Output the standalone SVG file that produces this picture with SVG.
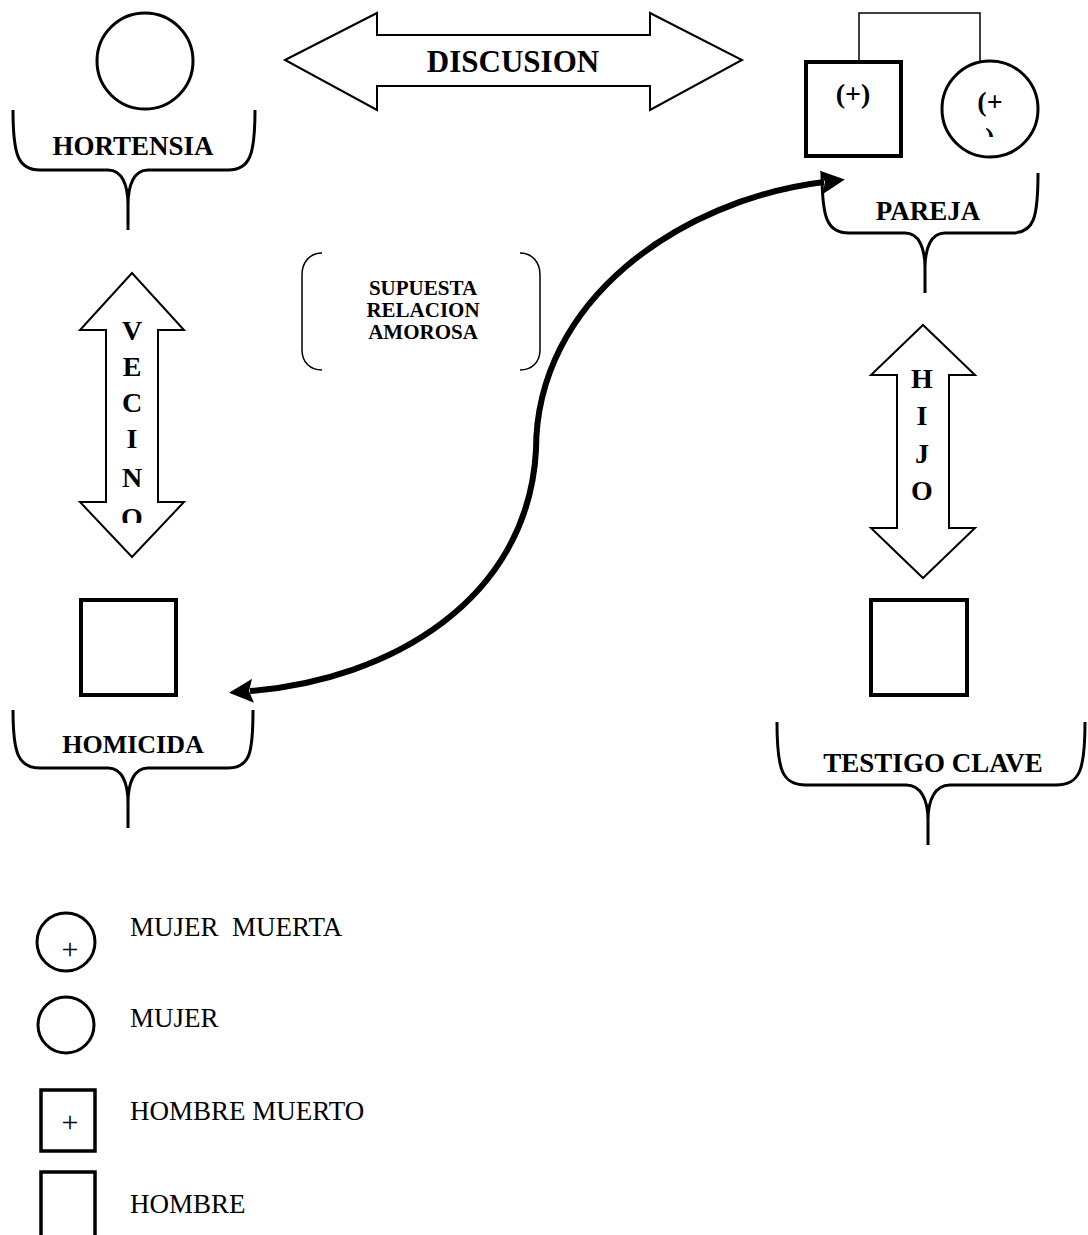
<svg xmlns="http://www.w3.org/2000/svg" width="1088" height="1235" viewBox="0 0 1088 1235">
<style>
.lbl{font-family:"Liberation Serif","Times New Roman",serif;font-weight:bold;fill:#000;text-anchor:middle}
.leg{font-family:"Liberation Serif","Times New Roman",serif;fill:#000;font-size:27px;white-space:pre}
.plus{font-family:"Liberation Serif","Times New Roman",serif;fill:#000;font-size:30px;text-anchor:middle}
.brace{fill:none;stroke:#000;stroke-width:3;stroke-linejoin:round}
.box{fill:#fff;stroke:#000;stroke-width:4}
.circ{fill:#fff;stroke:#000;stroke-width:3}
.bigarrow{fill:#fff;stroke:#000;stroke-width:2;stroke-linejoin:miter}
</style>
<defs>
<marker id="ah" markerUnits="userSpaceOnUse" viewBox="0 0 24 24" markerWidth="24" markerHeight="24" refX="3" refY="12" orient="auto-start-reverse">
<path d="M0,0 L24,12 L0,24 L4,12 z" fill="#000"/>
</marker>
<clipPath id="clipO"><rect x="100" y="490" width="60" height="33"/></clipPath>
<clipPath id="clipP"><rect x="970" y="120" width="40" height="17"/></clipPath>
</defs>
<rect width="1088" height="1235" fill="#fff"/>

<g id="hortensia">
<circle class="circ" cx="145" cy="61" r="48"/>
<path class="brace" d="M13,110 C13,155 18,170 40,170 L108,170 C122,170 128,185 128,205 L128,230 M128,205 C128,185 134,170 148,170 L228,170 C250,170 255,155 255,110"/>
<text class="lbl" x="133" y="155" font-size="27">HORTENSIA</text>
</g>

<g id="pareja">
<path d="M859,60 V13 H980 V61" fill="none" stroke="#000" stroke-width="1.5"/>
<rect class="box" x="806" y="62" width="95" height="94"/>
<circle class="circ" cx="990" cy="109" r="48"/>
<text class="lbl" x="853" y="103" font-size="28">(+)</text>
<text class="lbl" x="990" y="111" font-size="28">(+</text>
<text class="lbl" x="990" y="147" font-size="28" clip-path="url(#clipP)">)</text>
<path class="brace" d="M822,173 C822,218 827,233 849,233 L905,233 C919,233 925,248 925,268 L925,293 M925,268 C925,248 931,233 945,233 L1012,233 C1034,233 1038,218 1038,173"/>
<text class="lbl" x="928" y="220" font-size="27">PAREJA</text>
</g>

<g id="homicida">
<rect class="box" x="81" y="600" width="95" height="95"/>
<path class="brace" d="M13,710 C13,753 18,768 40,768 L108,768 C122,768 128,783 128,803 L128,828 M128,803 C128,783 134,768 148,768 L228,768 C250,768 253,753 253,710"/>
<text class="lbl" x="133" y="753" font-size="26">HOMICIDA</text>
</g>

<g id="testigo">
<rect class="box" x="871" y="600" width="96" height="95"/>
<path class="brace" d="M777,722 C777,770 782,785 806,785 L906,785 C921,785 928,800 928,820 L928,845 M928,820 C928,800 935,785 950,785 L1056,785 C1080,785 1085,770 1085,722"/>
<text class="lbl" x="933" y="772" font-size="27">TESTIGO CLAVE</text>
</g>

<g id="discusion">
<polygon class="bigarrow" points="285,60 377,13 377,35 650,35 650,13 742,60 650,110 650,86 377,86 377,110"/>
<text class="lbl" x="513" y="72" font-size="31">DISCUSION</text>
</g>

<g id="vecino">
<polygon class="bigarrow" points="132,273 80,330 106,330 106,502 80,502 132,557 184,502 158,502 158,330 184,330"/>
<g class="lbl" font-size="28">
<text x="132" y="340">V</text>
<text x="132" y="376">E</text>
<text x="132" y="412">C</text>
<text x="132" y="448">I</text>
<text x="132" y="487">N</text>
<text x="132" y="527" clip-path="url(#clipO)">O</text>
</g>
</g>

<g id="hijo">
<polygon class="bigarrow" points="923,325 871,375 897,375 897,528 871,528 923,578 975,528 949,528 949,375 975,375"/>
<g class="lbl" font-size="28">
<text x="922" y="388">H</text>
<text x="922" y="425">I</text>
<text x="922" y="463">J</text>
<text x="922" y="500">O</text>
</g>
</g>

<g id="relacion">
<path d="M322,253 C310,253 302,262 302,275 L302,350 C302,362 310,370 322,370" fill="none" stroke="#000" stroke-width="1.5"/>
<path d="M520,253 C532,253 540,262 540,275 L540,350 C540,362 532,370 520,370" fill="none" stroke="#000" stroke-width="1.5"/>
<g class="lbl" font-size="21">
<text x="423" y="295">SUPUESTA</text>
<text x="423" y="317">RELACION</text>
<text x="423" y="339">AMOROSA</text>
</g>
</g>

<g id="connectors">
<path d="M250,691 C390,680 528,600 536,450 C536,300 680,200 824,182" fill="none" stroke="#000" stroke-width="6" marker-start="url(#ah)" marker-end="url(#ah)"/>
</g>

<g id="legend">
<circle class="circ" cx="66" cy="942" r="29"/>
<text class="plus" x="70" y="959">+</text>
<text class="leg" x="130" y="936" xml:space="preserve">MUJER  MUERTA</text>
<circle class="circ" cx="66" cy="1025" r="28"/>
<text class="leg" x="130" y="1027">MUJER</text>
<rect x="41" y="1090" width="54" height="61" fill="#fff" stroke="#000" stroke-width="3.5"/>
<text class="plus" x="70" y="1132">+</text>
<text class="leg" x="130" y="1120">HOMBRE MUERTO</text>
<rect x="41" y="1172" width="54" height="80" fill="#fff" stroke="#000" stroke-width="3.5"/>
<text class="leg" x="130" y="1213">HOMBRE</text>
</g>
</svg>
